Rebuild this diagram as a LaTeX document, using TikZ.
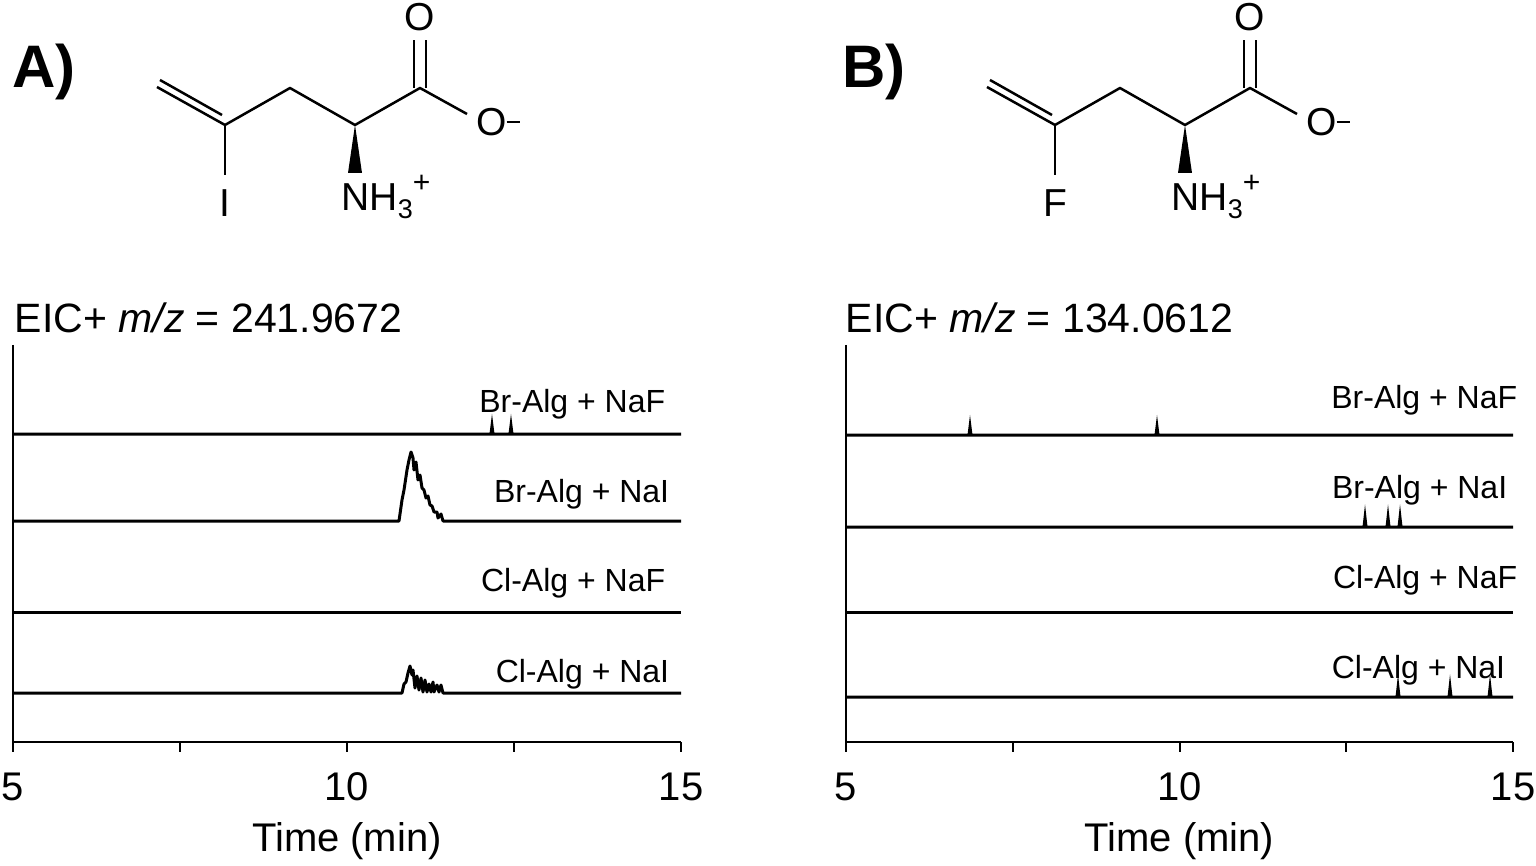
\documentclass[tikz,border=0pt]{standalone}
\usepackage{fontspec}
\setmainfont{Liberation Sans}
\begin{document}
\begin{tikzpicture}[x=1pt,y=-1pt,line width=3pt,
  lab/.style={font=\fontsize{32}{33}\selectfont,anchor=east},
  tick/.style={font=\fontsize{40}{41}\selectfont,anchor=north},
  atom/.style={font=\fontsize{39}{40}\selectfont,inner sep=0pt}]
\useasboundingbox (0,0) rectangle (1536,866);
% molecules
\foreach \dx/\hal/\pl in {0/I/A,830/F/B}{
 \begin{scope}[xshift=\dx]
 \node[font=\bfseries\fontsize{60}{60}\selectfont] (pl\pl) at (44,72) {\pl)};
 \coordinate (c1) at (225,125); \coordinate (c2) at (290,88);
 \coordinate (ca) at (355,125); \coordinate (cc) at (420,88);
 \draw[line width=2.5pt,line join=round] (c1)--(c2)--(ca)--(cc)--(467,114);
 \draw[line width=2.5pt] (c1)--(157,87);
 \draw[line width=2.5pt] (222,115)--(160,80);
 \draw[line width=2.5pt] (414,88)--(414,40) (426,88)--(426,40);
 \draw[line width=2.5pt] (c1)--(225,175);
 \fill (355,125)--(348,173)--(362,173)--cycle;
 \node[atom] (o1) at (420,17) {O};
 \node[atom] (o2) at (498,122) {O\raisebox{12pt}{\rule{13pt}{2.5pt}}};
 \node[atom] (n) at (386,197) {NH\raisebox{-8pt}{\fontsize{27}{27}\selectfont 3}\raisebox{18pt}{\fontsize{30}{30}\selectfont +}};
 \node[atom] (x) at (225,203) {\hal};
 \end{scope}}
% titles
\node[font=\fontsize{41}{42}\selectfont,anchor=west] (tA) at (10,318) {EIC+ \textit{m/z} = 241.9672};
\node[font=\fontsize{41}{42}\selectfont,anchor=west] (tB) at (841,318) {EIC+ \textit{m/z} = 134.0612};
\foreach \xa/\xb in {13/681,846/1513}{
 \draw[line width=2.5pt] (\xa,345)--(\xa,742)--(\xb,742);
 \foreach \i in {0,1,2,3,4}{\draw[line width=2pt] ({\xa+\i*(\xb-\xa)/4},742)--++(0,10);}
 \node[tick] at (\xa,768) {5};
 \node[tick] at ({(\xa+\xb)/2},768) {10};
 \node[tick] at (\xb,768) {15};
 \node[tick] at ({(\xa+\xb)/2},818) {Time (min)};
}
% A traces
\draw (13,434)--(491,434)--(492,426)--(493,434)--(510,434)--(511,426)--(512,434)--(681,434);
\draw[line join=round] (13,521)--(399,521)--(402,500)--(404,490)--(407,470)--(409,460)--(411,452)--(413,458)--(414,470)--(416,462)--(418,480)--(420,475)--(422,488)--(424,490)--(426,498)--(428,496)--(430,505)--(432,506)--(434,512)--(437,512)--(438,518)--(441,514)--(443,521)--(681,521);
\draw (13,612)--(681,612);
\draw[line join=round] (13,693)--(402,693)--(404,684)--(406,682)--(408,673)--(410,666)--(412,675)--(413,670)--(415,688)--(417,676)--(419,690)--(421,678)--(423,692)--(425,680)--(427,692)--(429,684)--(431,692)--(433,682)--(434,692)--(437,685)--(439,692)--(441,685)--(443,693)--(681,693);
\node[lab] at (670,404) {Br-Alg + NaF};
\node[lab] at (674,494) {Br-Alg + NaI};
\node[lab] at (670,583) {Cl-Alg + NaF};
\node[lab] at (674,674) {Cl-Alg + NaI};
% B traces
\draw (846,435)--(969,435)--(970,427)--(971,435)--(1156,435)--(1157,427)--(1158,435)--(1513,435);
\draw (846,527)--(1364,527)--(1365,518)--(1366,527)--(1387,527)--(1388,518)--(1389,527)--(1399,527)--(1400,518)--(1401,527)--(1513,527);
\draw (846,612)--(1513,612);
\draw (846,697)--(1397,697)--(1398,688)--(1399,697)--(1449,697)--(1450,688)--(1451,697)--(1489,697)--(1490,688)--(1491,697)--(1513,697);
\node[lab] at (1522,400) {Br-Alg + NaF};
\node[lab] at (1512,490) {Br-Alg + NaI};
\node[lab] at (1522,580) {Cl-Alg + NaF};
\node[lab] at (1510,670) {Cl-Alg + NaI};
\end{tikzpicture}
\end{document}
